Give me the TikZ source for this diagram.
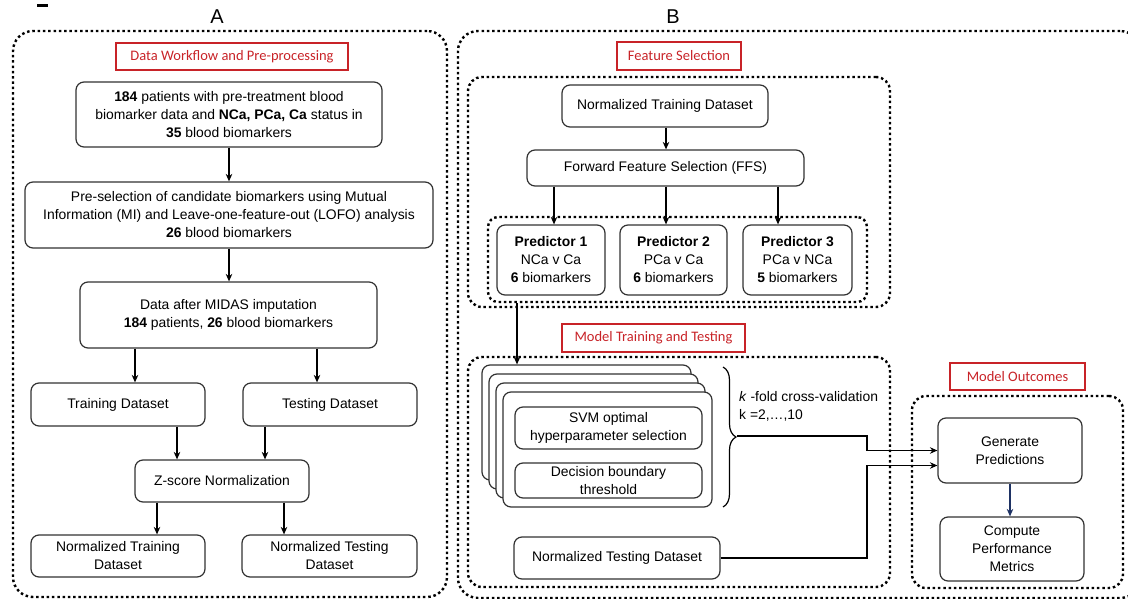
\documentclass[tikz,border=0pt]{standalone}
\usepackage{fontspec}
\setmainfont{Liberation Sans}
\newfontfamily\headfont{Carlito}
\usetikzlibrary{arrows.meta,decorations.pathreplacing}
\definecolor{boxgray}{RGB}{50,50,50}
\definecolor{hred}{RGB}{200,35,40}
\definecolor{navy}{RGB}{30,50,100}
\begin{document}
\begin{tikzpicture}[x=1pt,y=-1pt,
  box/.style={draw=boxgray, line width=1.2pt, rounded corners=8pt, align=center, inner sep=0pt, fill=white, font=\fontsize{13.9}{18}\selectfont},
  dotbox/.style={draw=black, line width=2.4pt, dash pattern=on 2.5pt off 2.8pt, inner sep=0pt},
  head/.style={draw=hred, line width=1.2pt, text=hred, inner sep=0pt, font=\headfont\fontsize{14.5}{17}\selectfont},
  letter/.style={font=\fontsize{20}{22}\selectfont},
  arr/.style={-{Stealth[length=7.5pt,width=6.5pt]}, line width=1.2pt, draw=black}]
\useasboundingbox (0,0) rectangle (1128,599);
% stray mark
\draw[line width=2.6pt] (37,5.5) -- (48,5.5);
% letters
\node[letter] (la) at (217,17) {A};
\node[letter] (lb) at (673,17) {B};
% outer dotted boxes
\node[dotbox, rounded corners=20pt, minimum width=434pt, minimum height=566pt] (outA) at (230,314) {};
\node[dotbox, rounded corners=20pt, minimum width=682pt, minimum height=567pt] (outB) at (799,314.5) {};
% ---------- A ----------
\node[head, minimum width=232pt, minimum height=27pt] (hA) at (232,56.5) {Data Workflow and Pre-processing};
\node[box, minimum width=306pt, minimum height=65pt] (n1) at (229,114.5)
  {\textbf{184} patients with pre-treatment blood\\biomarker data and \textbf{NCa, PCa, Ca} status in\\\textbf{35} blood biomarkers};
\node[box, minimum width=408pt, minimum height=66pt] (n2) at (229,215)
  {Pre-selection of candidate biomarkers using Mutual\\Information (MI) and Leave-one-feature-out (LOFO) analysis\\\textbf{26} blood biomarkers};
\node[box, minimum width=297pt, minimum height=66pt] (n3) at (228.5,315)
  {Data after MIDAS imputation\\\textbf{184} patients, \textbf{26} blood biomarkers};
\node[box, minimum width=174pt, minimum height=43pt] (train) at (118,404.5) {Training Dataset};
\node[box, minimum width=174pt, minimum height=43pt] (test) at (330,404.5) {Testing Dataset};
\node[box, minimum width=174pt, minimum height=42pt] (zs) at (222,481) {Z-score Normalization};
\node[box, minimum width=174pt, minimum height=42pt] (ntrain) at (118,556) {Normalized Training\\Dataset};
\node[box, minimum width=175pt, minimum height=42pt] (ntest) at (329.5,556) {Normalized Testing\\Dataset};
\draw[arr] (n1.south) -- (n1.south |- n2.north);
\draw[arr] (n2.south) -- (n2.south |- n3.north);
\draw[arr] (n3.south -| 135,0) -- (train.north -| 135,0);
\draw[arr] (n3.south -| 317,0) -- (test.north -| 317,0);
\draw[arr] (train.south -| 177,0) -- (zs.north -| 177,0);
\draw[arr] (test.south -| 265,0) -- (zs.north -| 265,0);
\draw[arr] (zs.south -| 157,0) -- (ntrain.north -| 157,0);
\draw[arr] (zs.south -| 284,0) -- (ntest.north -| 284,0);
% ---------- B: Feature selection ----------
\node[head, minimum width=124pt, minimum height=28pt] (hFS) at (679,56) {Feature Selection};
\node[dotbox, rounded corners=14pt, minimum width=422pt, minimum height=230pt] (fsbox) at (679,192) {};
\node[dotbox, rounded corners=10pt, minimum width=379pt, minimum height=85pt] (predbox) at (677.5,259.5) {};
\node[box, minimum width=206pt, minimum height=42pt] (ntd) at (665,106) {Normalized Training Dataset};
\node[box, minimum width=277pt, minimum height=36pt] (ffs) at (665.5,168) {Forward Feature Selection (FFS)};
\node[box, minimum width=108pt, minimum height=70pt] (p1) at (551,260) {\textbf{Predictor 1}\\NCa v Ca\\\textbf{6} biomarkers};
\node[box, minimum width=107pt, minimum height=70pt] (p2) at (673.5,260) {\textbf{Predictor 2}\\PCa v Ca\\\textbf{6} biomarkers};
\node[box, minimum width=109pt, minimum height=70pt] (p3) at (797.5,260) {\textbf{Predictor 3}\\PCa v NCa\\\textbf{5} biomarkers};
\draw[arr] (ntd.south -| 666,0) -- (ffs.north -| 666,0);
\draw[arr] (ffs.south -| 554,0) -- (p1.north -| 554,0);
\draw[arr] (ffs.south -| 666,0) -- (p2.north -| 666,0);
\draw[arr] (ffs.south -| 778,0) -- (p3.north -| 778,0);
% ---------- B: Model training ----------
\node[head, minimum width=183pt, minimum height=28pt] (hMT) at (653.5,338) {Model Training and Testing};
\node[dotbox, rounded corners=14pt, minimum width=422pt, minimum height=230pt] (mtbox) at (679,472) {};
\node[box, minimum width=209pt, minimum height=115pt] (s3) at (586.5,422.5) {};
\node[box, minimum width=209pt, minimum height=115pt] (s2) at (593.5,431.5) {};
\node[box, minimum width=209pt, minimum height=115pt] (s1) at (600.5,440.5) {};
\node[box, minimum width=209pt, minimum height=115pt] (s0) at (607.5,449.5) {};
\node[box, minimum width=187pt, minimum height=42pt] (svm) at (608.5,428) {SVM optimal\\hyperparameter selection};
\node[box, minimum width=187pt, minimum height=35pt] (dbt) at (608.5,480.5) {Decision boundary\\threshold};
\draw[arr] (predbox.south -| 517,0) -- (s3.north -| 517,0);
\draw[line width=1.2pt, decorate, decoration={brace, amplitude=13pt}] (723,367) -- (723,507);
\coordinate (btip) at (737,436);
\node[anchor=west, align=left, inner sep=0pt, font=\fontsize{13.9}{18}\selectfont] (kf) at (739,406)
  {\textit{k} -fold cross-validation\\k =2,…,10};
\node[box, minimum width=206pt, minimum height=42pt] (ntest2) at (617,558) {Normalized Testing Dataset};
% ---------- B: Model outcomes ----------
\node[head, minimum width=135pt, minimum height=27pt] (hMO) at (1017.5,376.5) {Model Outcomes};
\node[dotbox, rounded corners=14pt, minimum width=211pt, minimum height=192pt] (mobox) at (1017.5,492) {};
\node[box, minimum width=144pt, minimum height=65pt] (gp) at (1010,450.5) {Generate\\Predictions};
\node[box, minimum width=144pt, minimum height=64pt] (cpm) at (1012,549) {Compute\\Performance\\Metrics};
\draw[arr] (btip) -- (867,436) |- (gp.west);
\draw[arr] (ntest2.east) -- (ntest2.east -| 867,0) |- ([yshift=-15pt]gp.west);
\draw[arr, draw=navy, -{Stealth[length=7.5pt,width=6.5pt,fill=navy]}] (gp.south) -- (gp.south |- cpm.north);
\end{tikzpicture}
\end{document}
